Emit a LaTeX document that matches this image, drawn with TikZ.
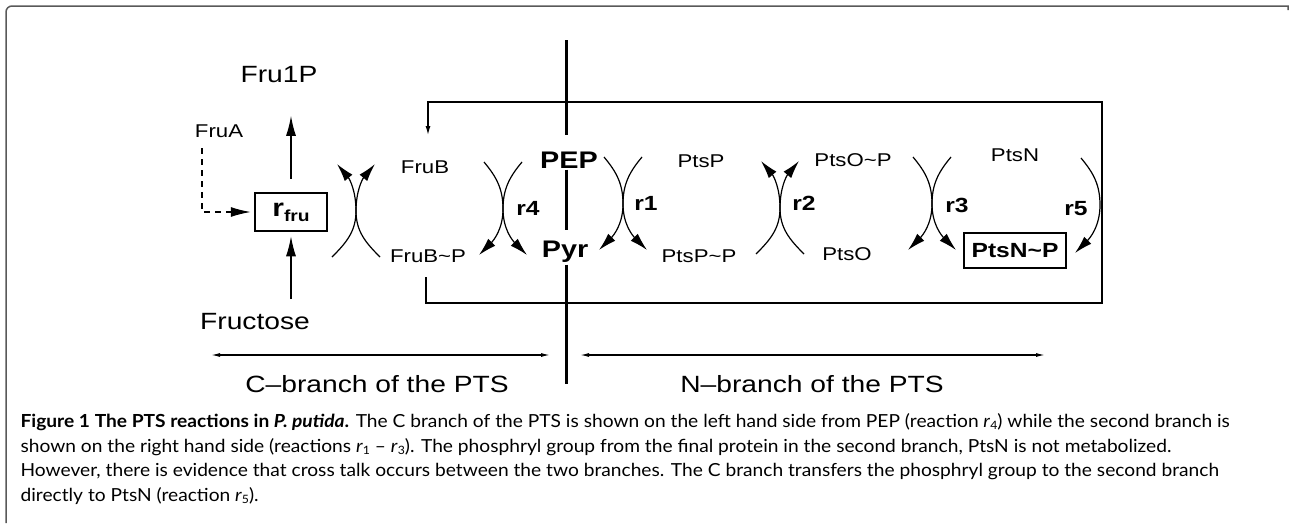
\documentclass[tikz,border=0pt]{standalone}
\usepackage{fontspec}
\usepackage{tikz}
\usetikzlibrary{calc,arrows.meta}
\setmainfont{Liberation Sans}
\newfontfamily\figfont[FakeStretch=1.2]{Liberation Sans}
\newfontfamily\capfont[FakeStretch=1.065]{Lato}
% a pair of touching arcs of one reaction, tangent point #2
\def\rxn[#1](#2){%
  \draw[#1] ($(#2)+(-19,47)$) to[out=-50,in=90] (#2) to[out=-90,in=45] ($(#2)+(-24,-46)$);
  \draw[#1] ($(#2)+(19,47)$) to[out=-130,in=90] (#2) to[out=-90,in=135] ($(#2)+(24,-46)$);}
\def\rsub#1{\textit{r}\raisebox{-2.5pt}{\fontsize{11.5}{11.5}\selectfont #1}}

\begin{document}
\begin{tikzpicture}[x=1pt,y=1pt,line width=1.2pt,
    txt/.style={font=\figfont\fontsize{18.5}{20}\selectfont,inner sep=0pt,anchor=base},
    big/.style={font=\figfont\fontsize{23.5}{26}\selectfont,inner sep=0pt,anchor=base},
    rlbl/.style={font=\figfont\bfseries\fontsize{20.5}{22}\selectfont,inner sep=0pt,anchor=base},
    met/.style={font=\figfont\bfseries\fontsize{24}{26}\selectfont,inner sep=0pt,anchor=base},
    fbox/.style={draw,line width=2.5pt,inner sep=0pt},
    arr/.style={-{Latex[length=20pt,width=10pt]},line width=1.3pt},
    dasharr/.style={arr,dash pattern=on 6pt off 5pt},
    rxndown/.style={-{Latex[length=18pt,width=10pt]}},
    rxnup/.style={{Latex[length=18pt,width=10pt]}-},
    feed/.style={-{Latex[length=9pt,width=5pt]}},
    brarr/.style={{Latex[length=9pt,width=4pt]}-{Latex[length=9pt,width=4pt]}},
    axis/.style={line width=3pt},
    captxt/.style={font=\capfont\fontsize{18}{20}\selectfont,inner sep=0pt,anchor=base west}]
  \useasboundingbox (0,0) rectangle (1289,-523);

  %%%%% frame %%%%%
  \draw[black!65,line width=1.5pt] (6,-523) -- (6,-12) arc (180:90:6) -- (1288,-6) -- (1288,-10);

  %%%%% C branch %%%%%
  \node[big] (fru1p) at (279,-82) {Fru1P};
  \node[txt] (frua) at (219,-137) {FruA};
  \node[fbox,minimum width=72pt,minimum height=38pt] (rfru) at (291,-212)
    {\figfont\bfseries\fontsize{25}{25}\selectfont r\raisebox{-5pt}{\fontsize{16}{16}\selectfont fru}};
  \node[big] (fructose) at (255,-329) {Fructose};
  \node[txt] (frub) at (425,-173) {FruB};
  \node[txt] (frubp) at (428,-262) {FruB\textasciitilde P};
  \node[rlbl] (r4) at (528,-215) {r4};

  \draw[arr,shorten <=13pt,shorten >=33pt] (rfru.north) -- (rfru.north |- fru1p.south);
  \draw[arr,shorten <=13pt,shorten >=4pt] (rfru.south |- fructose.north) -- (rfru.south);
  \coordinate (fruatail) at (202,-148);
  \draw[dasharr,shorten >=3pt] (fruatail) |- (rfru.west);

  \coordinate (tfru) at (356,-211);
  \coordinate (t4) at (503,-209);
  \rxn[rxnup](tfru)
  \rxn[rxndown](t4)

  %%%%% PEP / Pyr axis %%%%%
  \node[met,text height=32pt,text depth=1pt] (pep) at (569,-168) {PEP};
  \node[met,text height=26pt,text depth=7pt] (pyr) at (565,-257) {Pyr};
  \coordinate (vtop) at (566,-40);
  \coordinate (vbot) at (566,-384);
  \draw[axis] (vtop) -- (vtop |- pep.north);
  \draw[axis] (vtop |- pep.south) -- (vtop |- pyr.north);
  \draw[axis] (vtop |- pyr.south) -- (vbot);

  %%%%% N branch %%%%%
  \node[txt] (ptsp) at (701,-167) {PtsP};
  \node[txt] (ptspp) at (699,-262) {PtsP\textasciitilde P};
  \node[txt] (ptsop) at (853,-166) {PtsO\textasciitilde P};
  \node[txt] (ptso) at (847,-260) {PtsO};
  \node[txt] (ptsn) at (1015,-161) {PtsN};
  \node[fbox,minimum width=102pt,minimum height=35pt,font=\figfont\bfseries\fontsize{20.5}{22}\selectfont] (ptsnp) at (1015,-250.5) {PtsN\textasciitilde P};
  \node[rlbl] (r1) at (646,-210) {r1};
  \node[rlbl] (r2) at (804,-210) {r2};
  \node[rlbl] (r3) at (957,-212) {r3};
  \node[rlbl] (r5) at (1076,-215) {r5};

  \coordinate (t1) at (623,-204);
  \coordinate (t2) at (780,-208);
  \coordinate (t3) at (932,-204);
  \rxn[rxndown](t1)
  \rxn[rxnup](t2)
  \rxn[rxndown](t3)
  \draw[rxndown] (1081,-158) to[out=-50,in=90] (1100,-205) to[out=-90,in=45] (1075,-253);

  %%%%% cross talk loop %%%%%
  \coordinate (fbout) at (426,-277);
  \coordinate (fbin) at (428,-135);
  \coordinate (loopSE) at (1102,-303);
  \coordinate (loopNE) at (1102,-102);
  \draw[feed] (fbout) |- (loopSE) |- (fbin |- loopNE) -- (fbin);

  %%%%% branches %%%%%
  \node[big] (cbranch) at (377,-392) {C\textendash branch of the PTS};
  \node[big] (nbranch) at (812,-392) {N\textendash branch of the PTS};
  \coordinate (cL) at (211,-355);
  \coordinate (cR) at (550,-355);
  \coordinate (nL) at (580,-355);
  \coordinate (nR) at (1045,-355);
  \draw[brarr] (cL) -- (cR);
  \draw[brarr] (nL) -- (nR);

  %%%%% caption %%%%%
  \node[captxt] (cap1) at (20,-427) {\textbf{Figure 1 The PTS reactions in \textit{P. putida}.} The C branch of the PTS is shown on the left hand side from PEP (reaction \rsub{4}) while the second branch is};
  \node[captxt] (cap2) at (20,-452) {shown on the right hand side (reactions \rsub{1} \textendash\ \rsub{3}). The phosphryl group from the final protein in the second branch, PtsN is not metabolized.};
  \node[captxt] (cap3) at (20,-476.5) {However, there is evidence that cross talk occurs between the two branches. The C branch transfers the phosphryl group to the second branch};
  \node[captxt] (cap4) at (20,-501) {directly to PtsN (reaction \rsub{5}).};
\end{tikzpicture}
\end{document}
